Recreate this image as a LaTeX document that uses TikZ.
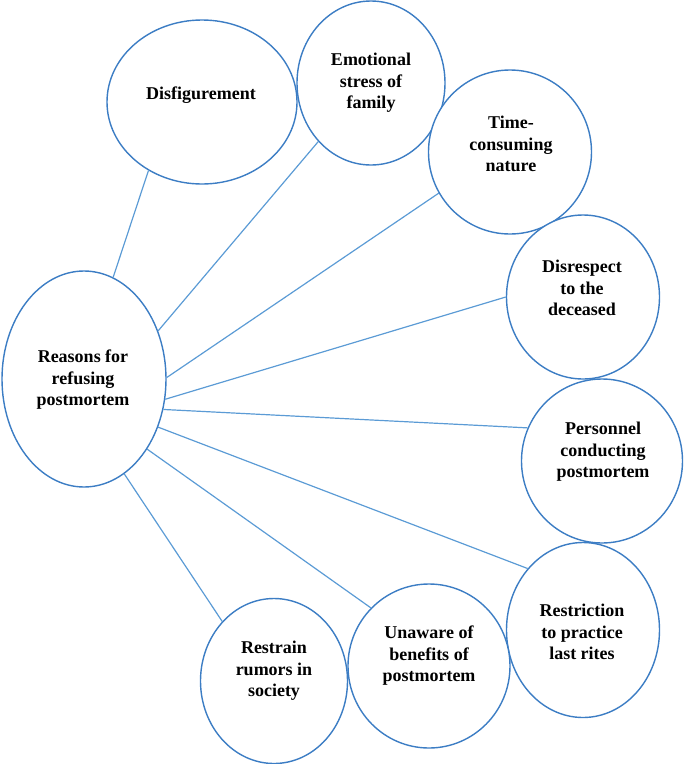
\documentclass[tikz,border=0pt]{standalone}
\usepackage{fontspec}
\setmainfont{Liberation Serif}
\usetikzlibrary{shapes.geometric}
\definecolor{ringblue}{RGB}{60,125,196}
\definecolor{linkblue}{RGB}{91,155,213}
\tikzset{
  ring/.style={ellipse, draw=ringblue, line width=1.4pt, inner sep=0pt, fill=white},
  lbl/.style={font=\bfseries\fontsize{18}{21.5}\selectfont, align=center, inner sep=0pt},
  link/.style={draw=linkblue, line width=1.2pt}
}
\begin{document}
\begin{tikzpicture}[x=1pt,y=-1pt]
\useasboundingbox (0,0) rectangle (685,764);
\node[ring, minimum width=164pt, minimum height=216pt] (c) at (84,379) {};
\node[ring, minimum width=190pt, minimum height=164pt] (d1) at (202,102) {};
\node[ring, minimum width=148pt, minimum height=164pt] (d2) at (371,83) {};
\node[ring, minimum width=163pt, minimum height=164pt] (d3) at (510,152) {};
\node[ring, minimum width=153pt, minimum height=164pt] (d4) at (583,297) {};
\node[ring, minimum width=161pt, minimum height=164pt] (d5) at (602,461) {};
\node[ring, minimum width=153pt, minimum height=175pt] (d6) at (583,630) {};
\node[ring, minimum width=162pt, minimum height=164pt] (d7) at (429,666) {};
\node[ring, minimum width=147pt, minimum height=165pt] (d8) at (274,681) {};

\node[lbl] (t0) at (83,380) {Reasons for\\refusing\\postmortem};
\node[lbl] (t1) at (201,95) {Disfigurement};
\node[lbl] (t2) at (371,83) {Emotional\\stress of\\family};
\node[lbl] (t3) at (511,144) {Time-\\consuming\\nature};
\node[lbl] (t4) at (582,288) {Disrespect\\to the\\deceased};
\node[lbl] (t5) at (603,452) {Personnel\\conducting\\postmortem};
\node[lbl] (t6) at (582,632) {Restriction\\to practice\\last rites};
\node[lbl] (t7) at (429,656) {Unaware of\\benefits of\\postmortem};
\node[lbl] (t8) at (274,671) {Restrain\\rumors in\\society};

\path[link] (c.74) -- (d1.-128);
\path[link] (c.33.5) -- (d2.-132);
\path[link] (c.1) -- (d3.-150);
\path[link] (c.-14.7) -- (d4.180);
\path[link] (c.-21) -- (d5.156);
\path[link] (c.-33) -- (d6.132);
\path[link] (c.-48) -- (d7.135);
\path[link] (c.-67) -- (d8.131);
\end{tikzpicture}
\end{document}
